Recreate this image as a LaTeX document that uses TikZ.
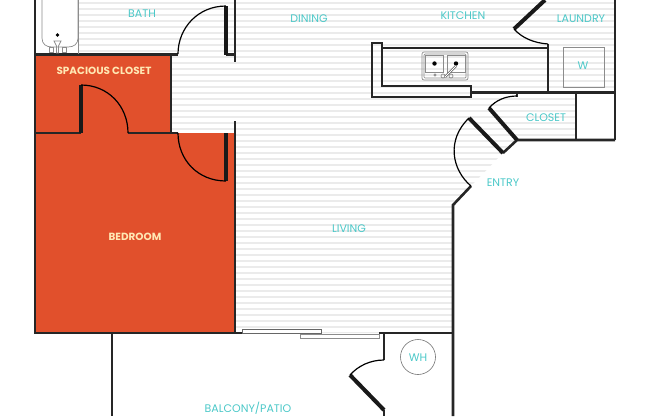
\documentclass[tikz,border=0pt]{standalone}
\usepackage{fontspec}
\setmainfont{Poppins}
\definecolor{roomred}{RGB}{225,80,44}
\definecolor{labelteal}{RGB}{75,200,200}
\definecolor{labelcream}{RGB}{255,232,180}
\tikzset{
	wall/.style={line width=2.6pt,black!85},
	thickwall/.style={line width=4pt,black!90},
	swing/.style={line width=1.2pt,black},
	fixture/.style={line width=0.7pt,black!45},
	stripe/.style={line width=1.2pt,black!8},
	roomlabel/.style={text=labelteal,yshift=-1pt,font=\fontsize{11}{13}\selectfont},
	redlabel/.style={text=labelcream,yshift=-1pt,font=\fontsize{10.4}{12}\selectfont\bfseries},
}
\begin{document}
\begin{tikzpicture}[x=1pt,y=-1pt]
	\useasboundingbox (0,0) rectangle (652,416);

	% rooms
	\fill [roomred] (35,55) rectangle (171,133) (35,133) rectangle (235,333);
	\begin{scope}
		\clip (78,0) -- (615,0) -- (615,92) -- (576,92) -- (576,140) -- (517,140) -- (503,153) -- (471,186) -- (453,205) -- (453,333) -- (235,333) -- (235,133) -- (171,133) -- (171,55) -- (78,55) -- cycle;
		\foreach \y in {3,9,...,333} {
			\draw [stripe] (78,\y) -- (615,\y);
		}
	\end{scope}

	% walls
	\draw [wall] (35,0) -- (35,333) -- (242,333);
	\draw [wall] (35,54.5) -- (178,54.5);
	\draw [wall] (171,54.5) -- (171,133);
	\draw [wall] (35,133) -- (81,133);
	\draw [wall] (128,133) -- (178,133);
	\draw [wall] (235,0) -- (235,62);
	\draw [wall] (235,121) -- (235,333);
	\draw [wall] (226,54.5) -- (235,54.5);
	\draw [wall] (379,333) -- (453,333);
	\draw [wall] (453,416) -- (453,205) -- (471,186);
	\draw [wall] (503,153) -- (517,140) -- (615,140);
	\draw [wall] (615,0) -- (615,140);
	\draw [wall] (576,92.5) -- (576,140);
	\draw [wall] (471,92.5) -- (615,92.5);
	\draw [wall] (548,44) -- (548,92.5);
	\draw [wall] (382,48) -- (548,48);
	\draw [wall] (372,43) -- (382,43) -- (382,86) -- (471,86) -- (471,97) -- (372,97) -- cycle;
	\draw [wall] (517,92.5) -- (517,97);
	\draw [wall] (112,333) -- (112,416);
	\draw [wall] (384,333) -- (384,360);
	\draw [wall] (384,410) -- (384,416);

	% door leaves
	\draw [thickwall] (226,6) -- (226,55);
	\draw [thickwall] (81,85) -- (81,133);
	\draw [thickwall] (226,133) -- (226,181);
	\draw [thickwall] (469,118) -- (503,153);
	\draw [thickwall] (489,108) -- (517,140);
	\draw [thickwall] (514,29) -- (545,0);
	\draw [thickwall] (350,375) -- (384,410);

	% door swings
	\draw [swing] (226,6) .. controls (198,6) and (178,28) .. (178,54);
	\draw [swing] (81,85) .. controls (108,85) and (128,106) .. (128,133);
	\draw [swing] (178,133) .. controls (178,160) and (198,181) .. (226,181);
	\draw [swing] (469,118) .. controls (446,140) and (452,170) .. (471,186);
	\draw [swing] (489,108) .. controls (496,100) and (506,96) .. (517,96);
	\draw [swing] (514,29) .. controls (522,38) and (534,43) .. (548,44);
	\draw [swing] (350,375) .. controls (358,366) and (370,360) .. (384,360);

	% sliding door
	\draw [fill=white,draw=black!60,line width=0.8pt] (242,329) rectangle (321,333.5);
	\draw [fill=white,draw=black!45,line width=0.8pt] (300,334) rectangle (379,338);

	% tub and sink
	\draw [fixture] (42,0) -- (42,38) .. controls (42,44) and (46,47) .. (52,47) -- (68,47) .. controls (74,47) and (78,44) .. (78,38) -- (78,0);
	\draw [fixture] (78.5,0) -- (78.5,54);
	\fill [black] (57.5,35) circle (1.8);
	\draw [fixture] (54,41) -- (61,41) -- (58.5,46) -- (58.5,53) -- (56.5,53) -- (56.5,46) -- cycle;
	\draw [fixture] (49,47.5) rectangle (53,52) (62,47.5) rectangle (66,52);
	\draw [fixture,rounded corners=2pt] (422,52) rectangle (468,80);
	\draw [fixture,rounded corners=1pt] (424,54) rectangle (466,78);
	\draw [fixture] (425,55) rectangle (443,72) (447,55) rectangle (465,72);
	\fill [black] (434.5,63.5) circle (2.2) (456,63.5) circle (2.2);
	\draw [fixture] (435,75) circle (1.2) (443,76) circle (2) (451,76) circle (2);
	\draw [line width=2.4pt,black!65] (456,66) -- (445,77);
	\draw [line width=1pt,white] (456,66) -- (445,77);

	% washer and heater
	\draw [fixture,line width=0.9pt] (563,47) rectangle (604,87);
	\draw [line width=0.6pt,black!55] (418,357) circle (17.5);

	% labels
	\node [roomlabel] (bath) at (142,13) {BATH};
	\node [roomlabel] (dining) at (309,18) {DINING};
	\node [roomlabel] (kitchen) at (463,15) {KITCHEN};
	\node [roomlabel] (laundry) at (581,18) {LAUNDRY};
	\node [roomlabel] (closet) at (546,117) {CLOSET};
	\node [roomlabel] (entry) at (503,182) {ENTRY};
	\node [roomlabel] (living) at (349,228) {LIVING};
	\node [roomlabel] (balcony) at (248,407) {BALCONY/PATIO};
	\node [roomlabel] (washer) at (583,65) {W};
	\node [roomlabel] (heater) at (418,357) {WH};
	\node [redlabel] (walkin) at (104,70) {SPACIOUS CLOSET};
	\node [redlabel] (bedroom) at (135,236) {BEDROOM};
\end{tikzpicture}
\end{document}
